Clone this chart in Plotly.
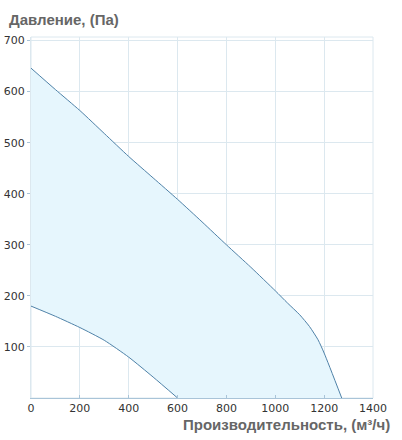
import plotly.graph_objects as go

# верхняя характеристика (макс. скорость)
upper_x = [0, 100, 200, 300, 400, 500, 600, 700, 800, 900, 1000, 1050, 1100, 1140, 1175, 1200, 1272]
upper_y = [646, 604, 563, 518, 473, 431, 389, 345, 300, 256, 210, 186, 163, 140, 114, 88, 0]

# нижняя характеристика (мин. скорость)
lower_x = [0, 100, 200, 300, 400, 500, 600]
lower_y = [180, 160, 138, 113, 80, 41, 0]

x_ticks = [0, 200, 400, 600, 800, 1000, 1200, 1400]
y_ticks = [100, 200, 300, 400, 500, 600, 700]

line_color = "#4f82a8"
fill_color = "#e6f6fd"
grid_color = "#dce8ef"

# область между кривыми: верхняя кривая, затем нижняя в обратном порядке
area_x = upper_x + lower_x[::-1]
area_y = upper_y + lower_y[::-1]

fig = go.Figure()
fig.add_trace(go.Scatter(x=area_x, y=area_y, mode="lines", fill="toself",
                         fillcolor=fill_color, line=dict(width=0),
                         hoverinfo="skip", showlegend=False))
fig.add_trace(go.Scatter(x=upper_x, y=upper_y, mode="lines",
                         line=dict(color=line_color, width=1, shape="spline", smoothing=0.6),
                         showlegend=False))
fig.add_trace(go.Scatter(x=lower_x, y=lower_y, mode="lines",
                         line=dict(color=line_color, width=1, shape="spline", smoothing=0.6),
                         showlegend=False))

fig.update_layout(
    width=402, height=440,
    margin=dict(l=31, r=29, t=37, b=42),
    paper_bgcolor="white", plot_bgcolor="white",
    font=dict(family="DejaVu Sans", size=11, color="#333333"),
    xaxis=dict(range=[0, 1400], tickvals=x_ticks, showgrid=True, gridcolor=grid_color,
               zeroline=False, showline=True, linecolor="#a9c4d8", mirror=False,
               ticks="inside", ticklen=3, tickcolor="#a9c4d8", fixedrange=True,
               automargin=False),
    yaxis=dict(range=[0, 707], tickvals=y_ticks, showgrid=True, gridcolor=grid_color,
               zeroline=False, showline=True, linecolor=grid_color,
               ticks="outside", ticklen=3, tickcolor="#a9c4d8", fixedrange=True,
               automargin=False),
    annotations=[
        dict(text="Давление, (Па)", xref="paper", yref="paper",
             x=-24 / 342, y=1.0 + 18 / 361, xanchor="left", yanchor="middle",
             showarrow=False,
             font=dict(family="Liberation Sans", size=15, color="#666666", weight="bold")),
        dict(text="Производительность, (м³/ч)", xref="paper", yref="paper",
             x=1.0 + 19 / 342, y=-16 / 361, xanchor="right", yanchor="top",
             showarrow=False,
             font=dict(family="Liberation Sans", size=15, color="#666666", weight="bold")),
    ],
)
fig.add_shape(type="rect", xref="paper", yref="paper", x0=0, y0=0, x1=1, y1=1,
              line=dict(color=grid_color, width=1), layer="below")

# убираем стандартный отступ body, чтобы график стоял в углу окна
fig.write_html("out.html", config={"displayModeBar": False},
               post_script="document.body.style.margin='0';")
